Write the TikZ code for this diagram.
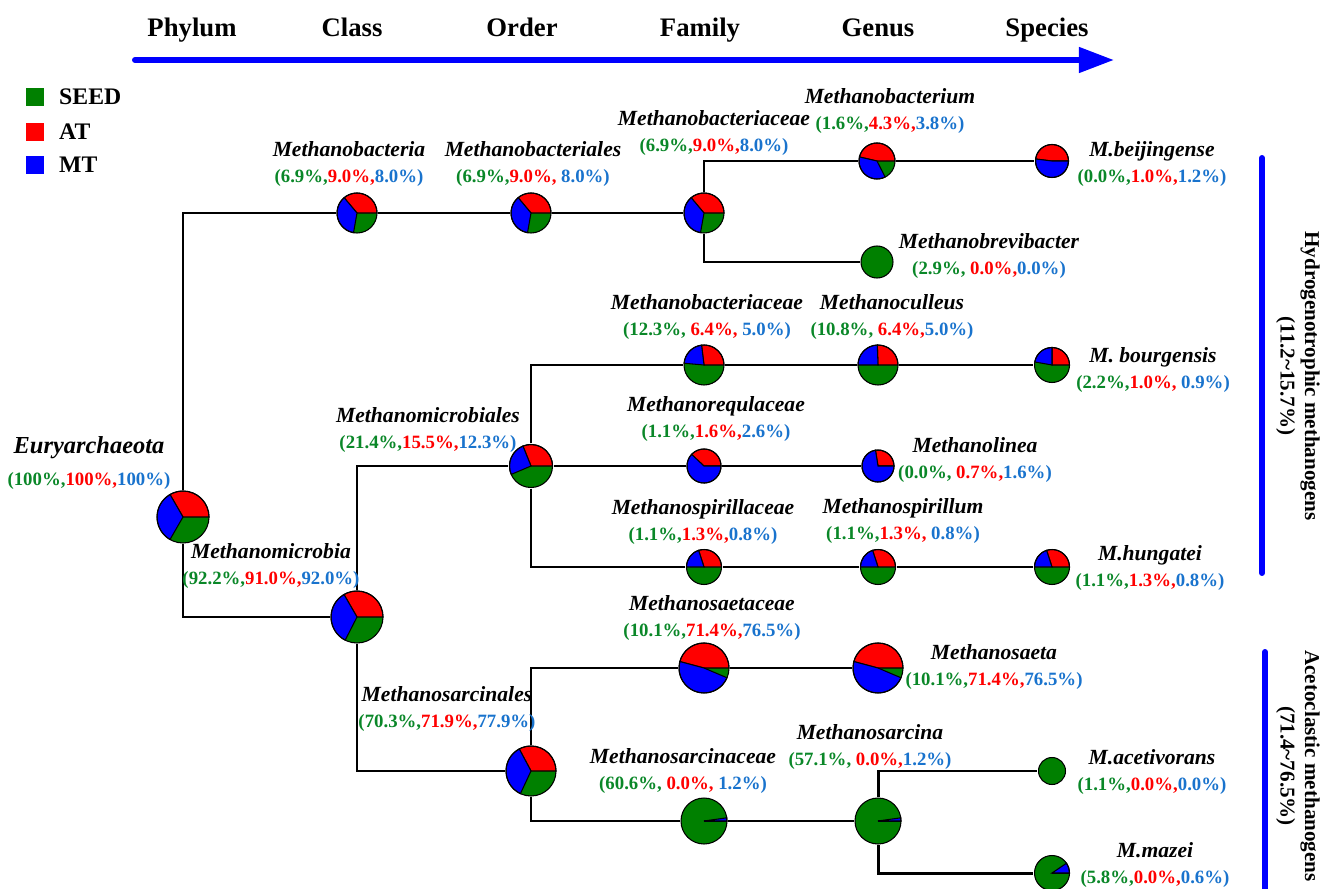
\documentclass[tikz,border=0pt]{standalone}
\usepackage{fontspec}
\setmainfont{Liberation Serif}
\usetikzlibrary{arrows.meta,positioning}
\usepackage{xcolor}

\definecolor{pgreen}{RGB}{0,128,0}
\definecolor{pred}{RGB}{255,0,0}
\definecolor{pblue}{RGB}{0,0,255}
\definecolor{tgreen}{RGB}{10,135,40}
\definecolor{tred}{RGB}{255,0,0}
\definecolor{tblue}{RGB}{25,115,205}

\newcommand{\pct}[3]{\textcolor{tgreen}{(#1\%,}\textcolor{tred}{#2\%,}\textcolor{tblue}{#3\%)}}
\newcommand{\taxon}[4]{{\fontsize{12.3}{14.7}\selectfont\itshape #1}\\\pct{#2}{#3}{#4}}

\begin{document}
\begin{tikzpicture}[x=0.02cm,y=0.02cm,
		pie/.style={circle,inner sep=0pt,outer sep=0.6pt},
		pieline/.style={draw=black,line width=0.6pt},
		branch/.style={line width=1.7pt},
		taxlbl/.style={align=center,inner sep=0pt,font=\fontsize{10.7}{14.7}\selectfont\bfseries},
		rank/.style={anchor=base,font=\fontsize{15.2}{18}\selectfont\bfseries},
		legbox/.style={minimum size=10.8pt,inner sep=0pt},
		legtxt/.style={font=\fontsize{13.5}{16}\selectfont\bfseries,inner sep=0pt},
		grouptxt/.style={rotate=-90,align=center,font=\fontsize{12}{14}\selectfont\bfseries},
		groupbar/.style={draw=pblue,line width=3.4pt,line cap=round}]
	\useasboundingbox (0,0) rectangle (1323,-889);

	% taxonomic ranks
	\foreach \id/\x/\txt in {phylum/192/Phylum, class/352/Class, order/522/Order,
			family/700/Family, genus/878/Genus, species/1047/Species}
		\node[rank] (\id) at (\x,-36) {\txt};
	\coordinate (ax0) at (135,-60);
	\coordinate (ax1) at (1114,-60);
	\draw[pblue,line width=3.4pt,line cap=round,-{Triangle[length=20pt,width=14pt]}] (ax0)--(ax1);

	% legend
	\foreach \id/\y/\col/\txt in {seed/97/pgreen/SEED, at/132/pred/AT, mt/165/pblue/MT} {
		\node[legbox,fill=\col] (k-\id) at (35,-\y) {};
		\node[legtxt,right=8pt of k-\id] {\txt};
	};

	% pies: red from 0 to \ea, blue from \ea to \eb, green the rest
	\foreach \id/\x/\y/\rad/\ea/\eb in {
			eury/183/517/26/120/240,
			mbacteria/357/213/20/130/260,
			mbacteriales/531/213/20/130/260,
			mbacteriaceaeA/704/213/20/130/260,
			mbacterium/877/161/18/167/297,
			mbrevibacter/877/262/16/0/0,
			mbeijingense/1052/161/16.5/173/360,
			mmicrobia/357/617/26/120/243,
			mmicrobiales/531/466/21.5/112/203,
			mbacteriaceaeB/704/365/20/97/175,
			mculleus/878/365/20/92/180,
			mbourgensis/1052/365/17.5/90/170,
			mregulaceae/704/466/17/137/360,
			mlinea/878/466/16/99/360,
			mspirillaceae/704/567/17.5/108/180,
			mspirillum/878/567/17.5/108/180,
			mhungatei/1052/567/17.5/108/180,
			msarcinales/531/771/25/118/245,
			msaetaceae/704/668/25/165/337,
			msaeta/878/668/25/165/337,
			msarcinaceae/704/821/23/0/8,
			msarcina/878/821/23/0/8,
			macetivorans/1052/771/13.5/0/0,
			mmazei/1052/873/17.5/0/34}
		{
		\node[pie,minimum size={2*\rad*0.02cm}] (\id) at (\x,-\y) {};
		\fill[pgreen] (\id.center) circle[radius=\rad];
		\ifnum\eb>0
			\filldraw[pieline,fill=pred] (\id.center) -- ++(0:\rad)
				arc[start angle=0, end angle=\ea, radius=\rad] -- cycle;
			\filldraw[pieline,fill=pblue] (\id.center) -- ++(\ea:\rad)
				arc[start angle=\ea, end angle=\eb, radius=\rad] -- cycle;
		\fi
		\draw[pieline] (\id.center) circle[radius=\rad];
	};

	% tree
	\draw[branch] (eury) |- (mbacteria) -- (mbacteriales) -- (mbacteriaceaeA);
	\draw[branch] (eury) |- (mmicrobia);
	\draw[branch] (mbacteriaceaeA) |- (mbacterium) -- (mbeijingense);
	\draw[branch] (mbacteriaceaeA) |- (mbrevibacter);
	\draw[branch] (mmicrobia) |- (mmicrobiales);
	\draw[branch] (mmicrobia) |- (msarcinales);
	\draw[branch] (mmicrobiales) |- (mbacteriaceaeB) -- (mculleus) -- (mbourgensis);
	\draw[branch] (mmicrobiales) -- (mregulaceae) -- (mlinea);
	\draw[branch] (mmicrobiales) |- (mspirillaceae) -- (mspirillum) -- (mhungatei);
	\draw[branch] (msarcinales) |- (msaetaceae) -- (msaeta);
	\draw[branch] (msarcinales) |- (msarcinaceae) -- (msarcina);
	\draw[branch] (msarcina) |- (macetivorans);
	\draw[branch] (msarcina) |- (mmazei);

	% labels
	\node[taxlbl] (t-eury) at (89,-463)
		{{\fontsize{13.9}{14.7}\selectfont\itshape Euryarchaeota}\\[4pt]\pct{100}{100}{100}};
	\foreach \id/\x/\y/\txt/\vg/\vr/\vb in {
			mbacteria/349/164/Methanobacteria/6.9/9.0/8.0,
			mbacteriales/533/164/Methanobacteriales/6.9/9.0/{\ 8.0},
			mbacteriaceaeA/714/133/Methanobacteriaceae/6.9/9.0/8.0,
			mbacterium/890/111/Methanobacterium/1.6/4.3/3.8,
			mbeijingense/1152/164/M.beijingense/0.0/1.0/1.2,
			mbrevibacter/989/256/Methanobrevibacter/2.9/{\ 0.0}/0.0,
			mbacteriaceaeB/707/317/Methanobacteriaceae/12.3/{\ 6.4}/{\ 5.0},
			mculleus/892/317/Methanoculleus/10.8/{\ 6.4}/5.0,
			mbourgensis/1153/370/M. bourgensis/2.2/1.0/{\ 0.9},
			mmicrobiales/428/430/Methanomicrobiales/21.4/15.5/12.3,
			mregulaceae/716/419/Methanorequlaceae/1.1/1.6/2.6,
			mlinea/975/460/Methanolinea/0.0/{\ 0.7}/1.6,
			mspirillaceae/703/522/Methanospirillaceae/1.1/1.3/0.8,
			mspirillum/903/521/Methanospirillum/1.1/1.3/{\ 0.8},
			mhungatei/1150/568/M.hungatei/1.1/1.3/0.8,
			mmicrobia/271/566/Methanomicrobia/92.2/91.0/92.0,
			msaetaceae/712/618/Methanosaetaceae/10.1/71.4/76.5,
			msaeta/994/667/Methanosaeta/10.1/71.4/76.5,
			msarcinales/447/709/Methanosarcinales/70.3/71.9/77.9,
			msarcina/870/747/Methanosarcina/57.1/{\ 0.0}/1.2,
			msarcinaceae/683/771/Methanosarcinaceae/60.6/{\ 0.0}/{\ 1.2},
			macetivorans/1152/772/M.acetivorans/1.1/0.0/0.0,
			mmazei/1155/865/M.mazei/5.8/0.0/0.6}
		\node[taxlbl] (t-\id) at (\x,-\y) {\taxon{\txt}{\vg}{\vr}{\vb}};

	% methanogen groups
	\coordinate (hb0) at (1262,-158);
	\coordinate (hb1) at (1262,-573);
	\draw[groupbar] (hb0)--(hb1);
	\node[grouptxt] (hydro) at (1298,-376) {Hydrogenotrophic methanogens\\(11.2\textasciitilde15.7\%)};
	\coordinate (ab0) at (1265,-652);
	\coordinate (ab1) at (1265,-900);
	\draw[groupbar] (ab0)--(ab1);
	\node[grouptxt] (aceto) at (1298,-766) {Acetoclastic methanogens\\(71.4\textasciitilde76.5\%)};
\end{tikzpicture}
\end{document}
